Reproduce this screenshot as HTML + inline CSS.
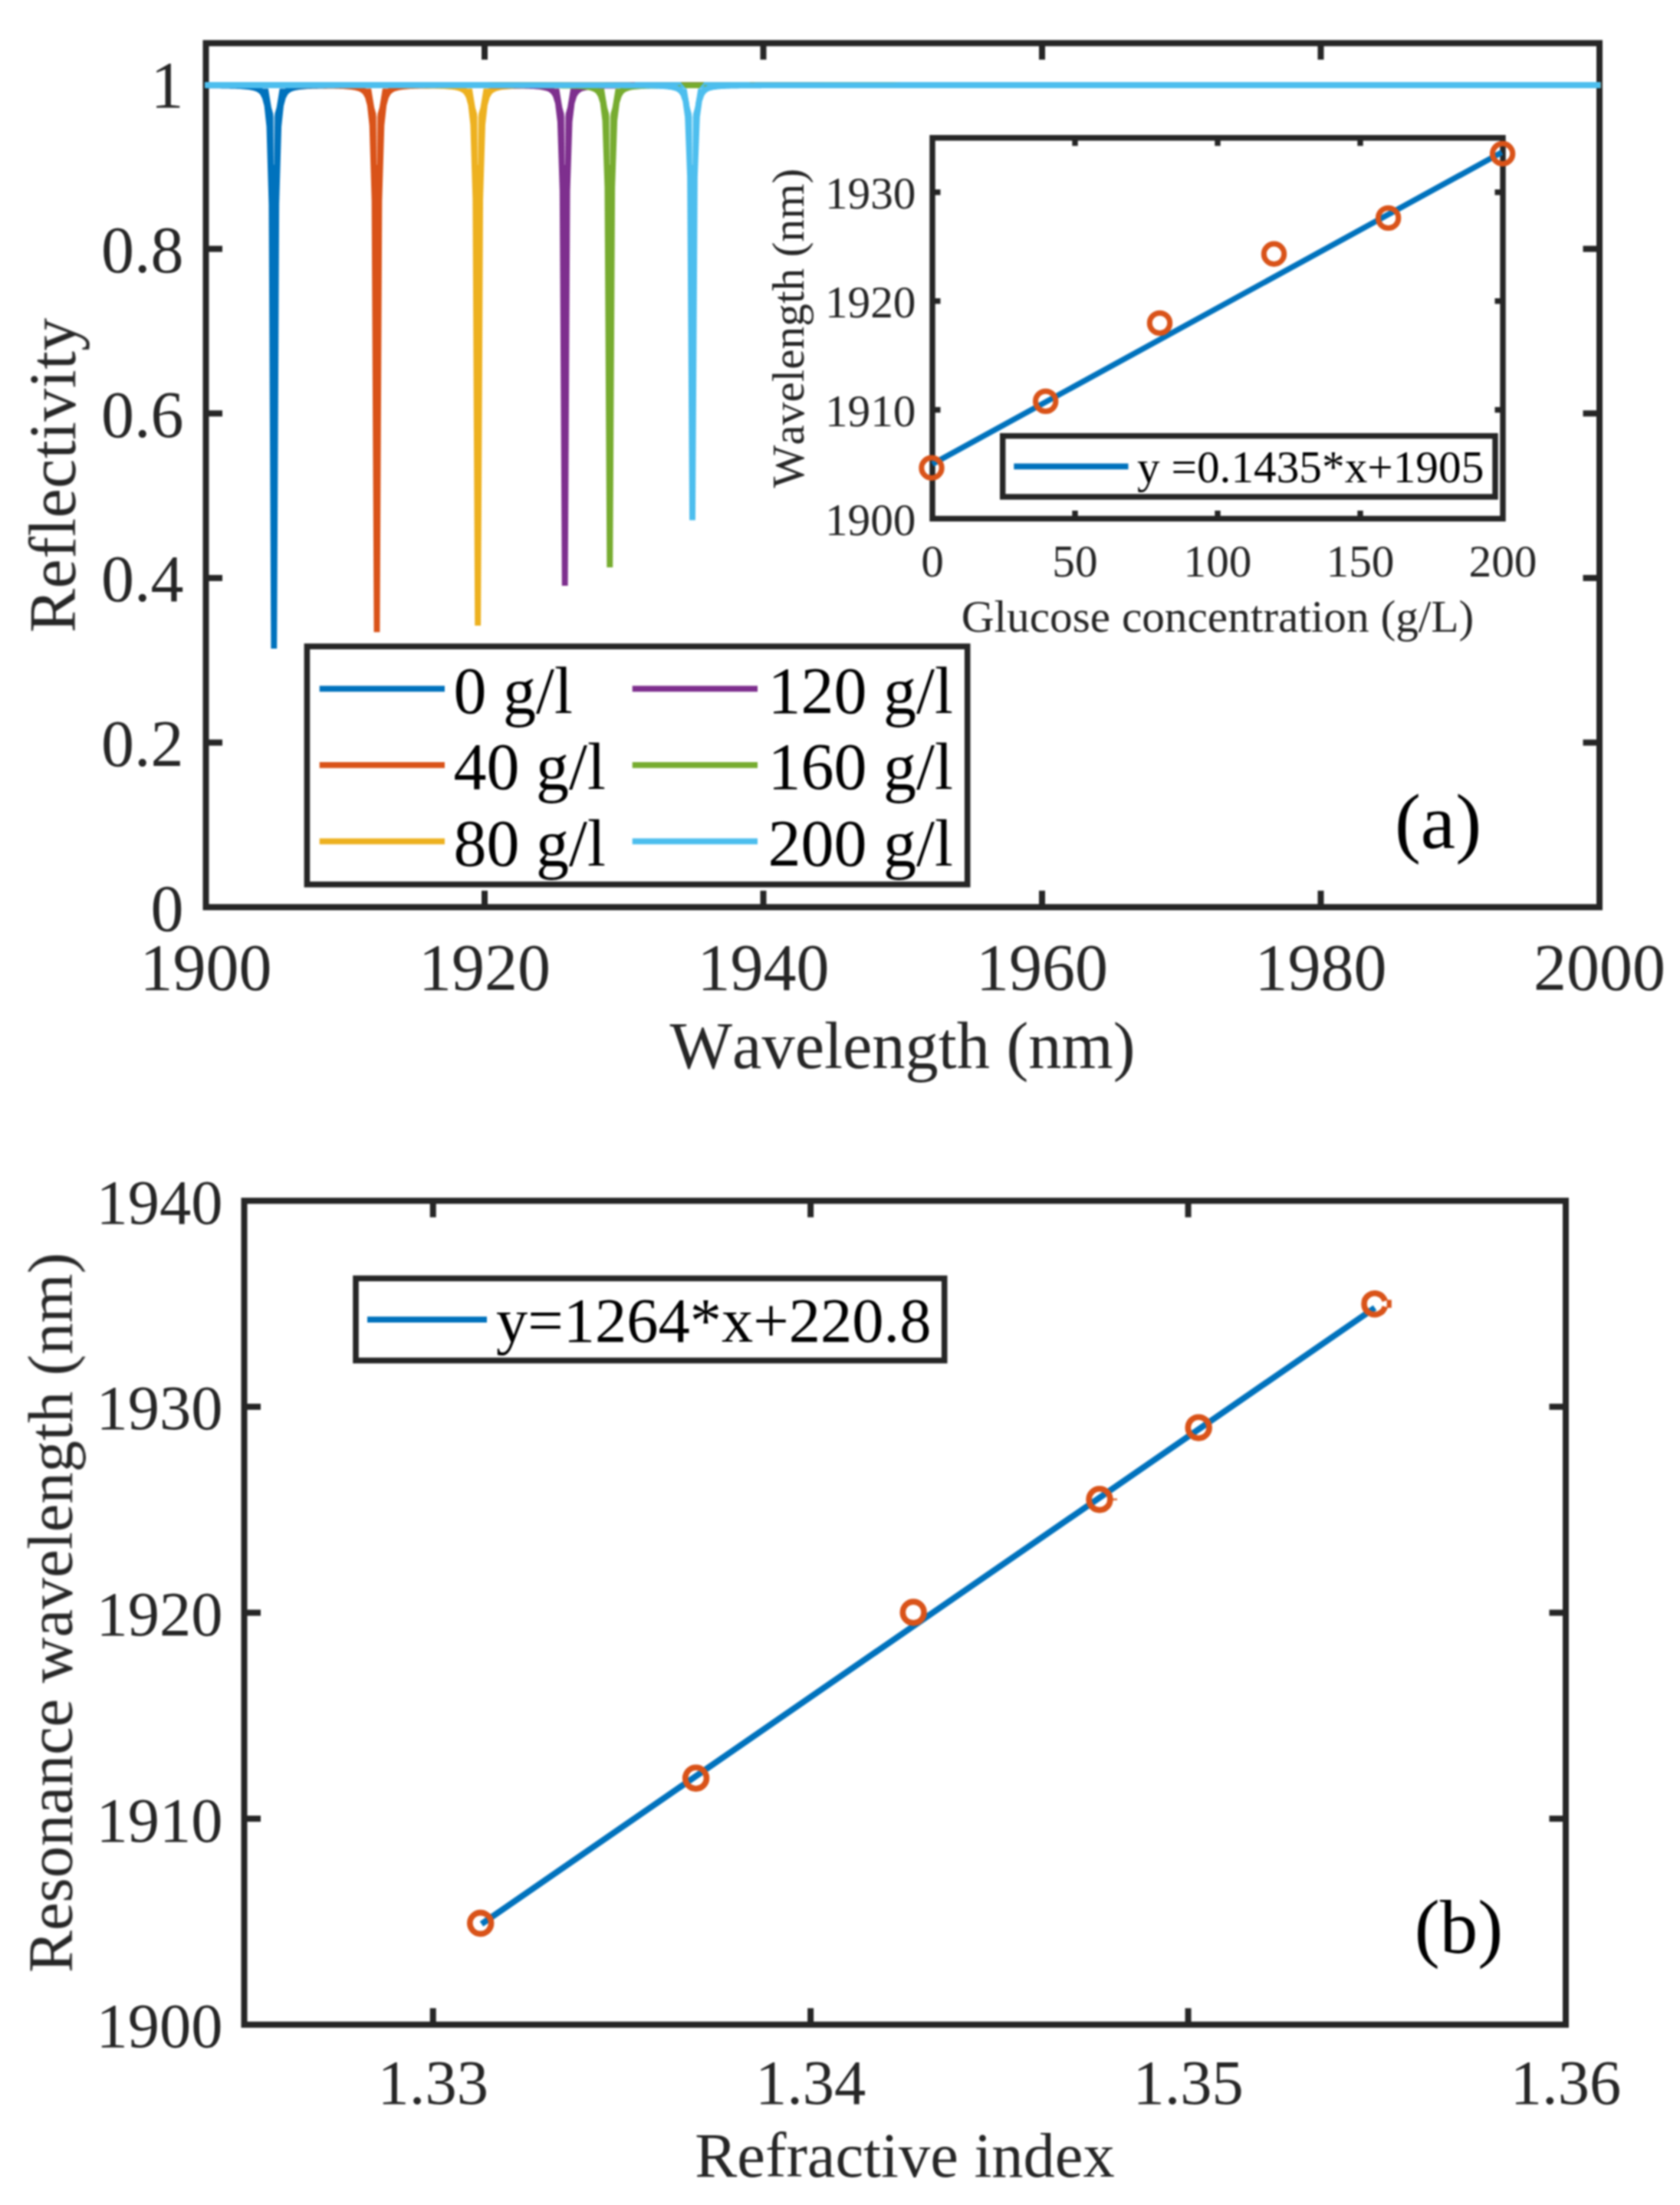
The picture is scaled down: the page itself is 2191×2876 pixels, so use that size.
<!DOCTYPE html>
<html lang="en">
<head>
<meta charset="utf-8">
<title>Reflectivity spectra and resonance wavelength versus refractive index</title>
<style>
html,body{margin:0;padding:0;background:#fff;}
body{width:2191px;height:2876px;overflow:hidden;}
svg{display:block;}
svg text{font-family:"Liberation Serif","Times New Roman",Times,serif;font-kerning:none;font-variant-ligatures:none;white-space:pre;}
</style>
</head>
<body>
<svg width="2191" height="2876" viewBox="0 0 2191 2876">
<defs><filter id="soft" filterUnits="userSpaceOnUse" x="0" y="0" width="2191" height="2876" color-interpolation-filters="sRGB"><feGaussianBlur stdDeviation="0.9"/></filter></defs>
<rect x="0" y="0" width="2191" height="2876" fill="#ffffff"/>
<g filter="url(#soft)">
<g id="panel-a">
<rect x="268.5" y="56.3" width="1817.5" height="1126.9" fill="none" stroke="#262626" stroke-width="8"/>
<line x1="632" y1="1183.2" x2="632" y2="1161.7" stroke="#262626" stroke-width="8" stroke-linecap="butt"/>
<line x1="632" y1="56.3" x2="632" y2="77.8" stroke="#262626" stroke-width="8" stroke-linecap="butt"/>
<line x1="995.5" y1="1183.2" x2="995.5" y2="1161.7" stroke="#262626" stroke-width="8" stroke-linecap="butt"/>
<line x1="995.5" y1="56.3" x2="995.5" y2="77.8" stroke="#262626" stroke-width="8" stroke-linecap="butt"/>
<line x1="1359" y1="1183.2" x2="1359" y2="1161.7" stroke="#262626" stroke-width="8" stroke-linecap="butt"/>
<line x1="1359" y1="56.3" x2="1359" y2="77.8" stroke="#262626" stroke-width="8" stroke-linecap="butt"/>
<line x1="1722.5" y1="1183.2" x2="1722.5" y2="1161.7" stroke="#262626" stroke-width="8" stroke-linecap="butt"/>
<line x1="1722.5" y1="56.3" x2="1722.5" y2="77.8" stroke="#262626" stroke-width="8" stroke-linecap="butt"/>
<line x1="268.5" y1="968.55" x2="290" y2="968.55" stroke="#262626" stroke-width="8" stroke-linecap="butt"/>
<line x1="2086" y1="968.55" x2="2064.5" y2="968.55" stroke="#262626" stroke-width="8" stroke-linecap="butt"/>
<line x1="268.5" y1="753.9" x2="290" y2="753.9" stroke="#262626" stroke-width="8" stroke-linecap="butt"/>
<line x1="2086" y1="753.9" x2="2064.5" y2="753.9" stroke="#262626" stroke-width="8" stroke-linecap="butt"/>
<line x1="268.5" y1="539.26" x2="290" y2="539.26" stroke="#262626" stroke-width="8" stroke-linecap="butt"/>
<line x1="2086" y1="539.26" x2="2064.5" y2="539.26" stroke="#262626" stroke-width="8" stroke-linecap="butt"/>
<line x1="268.5" y1="324.61" x2="290" y2="324.61" stroke="#262626" stroke-width="8" stroke-linecap="butt"/>
<line x1="2086" y1="324.61" x2="2064.5" y2="324.61" stroke="#262626" stroke-width="8" stroke-linecap="butt"/>
<path d="M268.8 111.29 L271.75 111.31 L274.7 111.34 L277.65 111.36 L280.6 111.39 L283.55 111.42 L286.5 111.46 L289.45 111.5 L292.4 111.54 L295.35 111.6 L298.3 111.66 L301.25 111.73 L304.2 111.81 L307.15 111.91 L310.1 112.03 L313.05 112.17 L316 112.34 L318.95 112.55 L321.9 112.82 L324.85 113.16 L327.8 113.61 L330.75 114.21 L333.7 115.05 L336.65 116.27 L339.6 118.12 L342.55 121.13 L345.5 126.51 L348.45 137.44 L351.4 164.77 L354.35 266.18 L357.3 846 L360.25 266.18 L363.2 164.77 L366.15 137.44 L369.1 126.51 L372.05 121.13 L375 118.12 L377.95 116.27 L380.9 115.05 L383.85 114.21 L386.8 113.61 L389.75 113.16 L392.7 112.82 L395.65 112.55 L398.6 112.34 L401.55 112.17 L404.5 112.03 L407.45 111.91 L410.4 111.81 L413.35 111.73 L416.3 111.66 L419.25 111.6 L422.2 111.54 L425.15 111.5 L428.1 111.46 L431.05 111.42 L434 111.39 L436.95 111.36 L439.9 111.34 L442.85 111.31 L445.8 111.29 L448.75 111.27 L451.7 111.26 L463 111.21 L477 111.16 L491 111.13 L505 111.11 L519 111.09 L533 111.07 L547 111.06 L561 111.06 L575 111.05 L589 111.04 L603 111.04 L617 111.03 L631 111.03 L645 111.03 L659 111.03 L673 111.02 L687 111.02 L701 111.02 L715 111.02 L729 111.02 L743 111.02 L757 111.01 L771 111.01 L785 111.01 L799 111.01 L813 111.01 L827 111.01 L841 111.01 L855 111.01 L869 111.01 L883 111.01 L897 111.01 L911 111.01 L925 111.01 L939 111.01 L953 111.01 L967 111.01 L981 111.01 L995 111.01 L1009 111.01 L1023 111.01 L1037 111 L1051 111 L1065 111 L1079 111 L1093 111 L1107 111 L1121 111 L1135 111 L1149 111 L1163 111 L1177 111 L1191 111 L1205 111 L1219 111 L1233 111 L1247 111 L1261 111 L1275 111 L1289 111 L1303 111 L1317 111 L1331 111 L1345 111 L1359 111 L1373 111 L1387 111 L1401 111 L1415 111 L1429 111 L1443 111 L1457 111 L1471 111 L1485 111 L1499 111 L1513 111 L1527 111 L1541 111 L1555 111 L1569 111 L1583 111 L1597 111 L1611 111 L1625 111 L1639 111 L1653 111 L1667 111 L1681 111 L1695 111 L1709 111 L1723 111 L1737 111 L1751 111 L1765 111 L1779 111 L1793 111 L1807 111 L1821 111 L1835 111 L1849 111 L1863 111 L1877 111 L1891 111 L1905 111 L1919 111 L1933 111 L1947 111 L1961 111 L1975 111 L1989 111 L2003 111 L2017 111 L2031 111 L2045 111 L2059 111 L2073 111 L2087 111 L2087.5 111" fill="none" stroke="#0072BD" stroke-width="7.8" stroke-linejoin="bevel" stroke-linecap="butt"/>
<path d="M336.65 115.6 L336.65 116.27 L339.6 118.12 L342.55 121.13 L345.5 126.51 L348.45 137.44 L351.4 164.77 L354.35 266.18 L360.25 266.18 L363.2 164.77 L366.15 137.44 L369.1 126.51 L372.05 121.13 L375 118.12 L377.95 116.27 L377.95 115.6 L364.7 115.6 L362.7 128 L360.7 140 L357.3 152 L353.9 140 L351.9 128 L349.9 115.6 Z" fill="#0072BD"/>
<path d="M356.1 149 L358.5 149 L357.65 215 L356.95 215 Z" fill="#fff" fill-opacity="0.6"/>
<path d="M267 111.04 L281 111.05 L295 111.06 L309 111.07 L323 111.08 L337 111.09 L351 111.11 L365 111.14 L379 111.18 L393 111.23 L397.1 111.25 L400.05 111.27 L403 111.28 L405.95 111.3 L408.9 111.33 L411.85 111.35 L414.8 111.38 L417.75 111.41 L420.7 111.44 L423.65 111.48 L426.6 111.53 L429.55 111.58 L432.5 111.64 L435.45 111.71 L438.4 111.79 L441.35 111.88 L444.3 112 L447.25 112.13 L450.2 112.3 L453.15 112.5 L456.1 112.76 L459.05 113.1 L462 113.53 L464.95 114.12 L467.9 114.94 L470.85 116.12 L473.8 117.91 L476.75 120.84 L479.7 126.05 L482.65 136.67 L485.6 163.2 L488.55 261.64 L491.5 824.5 L494.45 261.64 L497.4 163.2 L500.35 136.67 L503.3 126.05 L506.25 120.84 L509.2 117.91 L512.15 116.12 L515.1 114.94 L518.05 114.12 L521 113.53 L523.95 113.1 L526.9 112.76 L529.85 112.5 L532.8 112.3 L535.75 112.13 L538.7 112 L541.65 111.88 L544.6 111.79 L547.55 111.71 L550.5 111.64 L553.45 111.58 L556.4 111.53 L559.35 111.48 L562.3 111.44 L565.25 111.41 L568.2 111.38 L571.15 111.35 L574.1 111.33 L577.05 111.3 L580 111.28 L582.95 111.27 L585.9 111.25 L589 111.23 L603 111.18 L617 111.14 L631 111.11 L645 111.09 L659 111.08 L673 111.07 L687 111.06 L701 111.05 L715 111.04 L729 111.04 L743 111.04 L757 111.03 L771 111.03 L785 111.03 L799 111.02 L813 111.02 L827 111.02 L841 111.02 L855 111.02 L869 111.02 L883 111.01 L897 111.01 L911 111.01 L925 111.01 L939 111.01 L953 111.01 L967 111.01 L981 111.01 L995 111.01 L1009 111.01 L1023 111.01 L1037 111.01 L1051 111.01 L1065 111.01 L1079 111.01 L1093 111.01 L1107 111.01 L1121 111.01 L1135 111.01 L1149 111.01 L1163 111 L1177 111 L1191 111 L1205 111 L1219 111 L1233 111 L1247 111 L1261 111 L1275 111 L1289 111 L1303 111 L1317 111 L1331 111 L1345 111 L1359 111 L1373 111 L1387 111 L1401 111 L1415 111 L1429 111 L1443 111 L1457 111 L1471 111 L1485 111 L1499 111 L1513 111 L1527 111 L1541 111 L1555 111 L1569 111 L1583 111 L1597 111 L1611 111 L1625 111 L1639 111 L1653 111 L1667 111 L1681 111 L1695 111 L1709 111 L1723 111 L1737 111 L1751 111 L1765 111 L1779 111 L1793 111 L1807 111 L1821 111 L1835 111 L1849 111 L1863 111 L1877 111 L1891 111 L1905 111 L1919 111 L1933 111 L1947 111 L1961 111 L1975 111 L1989 111 L2003 111 L2017 111 L2031 111 L2045 111 L2059 111 L2073 111 L2087 111 L2087.5 111" fill="none" stroke="#D95319" stroke-width="7.8" stroke-linejoin="bevel" stroke-linecap="butt"/>
<path d="M470.85 115.6 L470.85 116.12 L473.8 117.91 L476.75 120.84 L479.7 126.05 L482.65 136.67 L485.6 163.2 L488.55 261.64 L494.45 261.64 L497.4 163.2 L500.35 136.67 L503.3 126.05 L506.25 120.84 L509.2 117.91 L512.15 116.12 L512.15 115.6 L498.9 115.6 L496.9 128 L494.9 140 L491.5 152 L488.1 140 L486.1 128 L484.1 115.6 Z" fill="#D95319"/>
<path d="M490.3 149 L492.7 149 L491.85 215 L491.15 215 Z" fill="#fff" fill-opacity="0.6"/>
<path d="M267 111.02 L281 111.02 L295 111.02 L309 111.02 L323 111.02 L337 111.03 L351 111.03 L365 111.03 L379 111.04 L393 111.04 L407 111.05 L421 111.05 L435 111.06 L449 111.07 L463 111.09 L477 111.1 L491 111.13 L505 111.16 L519 111.2 L528.8 111.25 L531.75 111.26 L534.7 111.28 L537.65 111.3 L540.6 111.32 L543.55 111.35 L546.5 111.37 L549.45 111.4 L552.4 111.44 L555.35 111.48 L558.3 111.52 L561.25 111.57 L564.2 111.63 L567.15 111.7 L570.1 111.78 L573.05 111.87 L576 111.98 L578.95 112.12 L581.9 112.28 L584.85 112.49 L587.8 112.74 L590.75 113.07 L593.7 113.5 L596.65 114.08 L599.6 114.89 L602.55 116.05 L605.5 117.83 L608.45 120.72 L611.4 125.87 L614.35 136.36 L617.3 162.58 L620.25 259.84 L623.2 816 L626.15 259.84 L629.1 162.58 L632.05 136.36 L635 125.87 L637.95 120.72 L640.9 117.83 L643.85 116.05 L646.8 114.89 L649.75 114.08 L652.7 113.5 L655.65 113.07 L658.6 112.74 L661.55 112.49 L664.5 112.28 L667.45 112.12 L670.4 111.98 L673.35 111.87 L676.3 111.78 L679.25 111.7 L682.2 111.63 L685.15 111.57 L688.1 111.52 L691.05 111.48 L694 111.44 L696.95 111.4 L699.9 111.37 L702.85 111.35 L705.8 111.32 L708.75 111.3 L711.7 111.28 L714.65 111.26 L717.6 111.25 L729 111.2 L743 111.15 L757 111.12 L771 111.1 L785 111.08 L799 111.07 L813 111.06 L827 111.05 L841 111.05 L855 111.04 L869 111.04 L883 111.03 L897 111.03 L911 111.03 L925 111.02 L939 111.02 L953 111.02 L967 111.02 L981 111.02 L995 111.02 L1009 111.01 L1023 111.01 L1037 111.01 L1051 111.01 L1065 111.01 L1079 111.01 L1093 111.01 L1107 111.01 L1121 111.01 L1135 111.01 L1149 111.01 L1163 111.01 L1177 111.01 L1191 111.01 L1205 111.01 L1219 111.01 L1233 111.01 L1247 111.01 L1261 111.01 L1275 111.01 L1289 111 L1303 111 L1317 111 L1331 111 L1345 111 L1359 111 L1373 111 L1387 111 L1401 111 L1415 111 L1429 111 L1443 111 L1457 111 L1471 111 L1485 111 L1499 111 L1513 111 L1527 111 L1541 111 L1555 111 L1569 111 L1583 111 L1597 111 L1611 111 L1625 111 L1639 111 L1653 111 L1667 111 L1681 111 L1695 111 L1709 111 L1723 111 L1737 111 L1751 111 L1765 111 L1779 111 L1793 111 L1807 111 L1821 111 L1835 111 L1849 111 L1863 111 L1877 111 L1891 111 L1905 111 L1919 111 L1933 111 L1947 111 L1961 111 L1975 111 L1989 111 L2003 111 L2017 111 L2031 111 L2045 111 L2059 111 L2073 111 L2087 111 L2087.5 111" fill="none" stroke="#EDB120" stroke-width="7.8" stroke-linejoin="bevel" stroke-linecap="butt"/>
<path d="M602.55 115.6 L602.55 116.05 L605.5 117.83 L608.45 120.72 L611.4 125.87 L614.35 136.36 L617.3 162.58 L620.25 259.84 L626.15 259.84 L629.1 162.58 L632.05 136.36 L635 125.87 L637.95 120.72 L640.9 117.83 L643.85 116.05 L643.85 115.6 L630.6 115.6 L628.6 128 L626.6 140 L623.2 152 L619.8 140 L617.8 128 L615.8 115.6 Z" fill="#EDB120"/>
<path d="M622 149 L624.4 149 L623.55 215 L622.85 215 Z" fill="#fff" fill-opacity="0.6"/>
<path d="M267 111.01 L281 111.01 L295 111.01 L309 111.01 L323 111.01 L337 111.01 L351 111.01 L365 111.01 L379 111.02 L393 111.02 L407 111.02 L421 111.02 L435 111.02 L449 111.02 L463 111.03 L477 111.03 L491 111.03 L505 111.04 L519 111.04 L533 111.05 L547 111.06 L561 111.07 L575 111.08 L589 111.09 L603 111.11 L617 111.14 L631 111.18 L642.3 111.23 L645.25 111.24 L648.2 111.26 L651.15 111.28 L654.1 111.3 L657.05 111.32 L660 111.35 L662.95 111.37 L665.9 111.41 L668.85 111.44 L671.8 111.48 L674.75 111.53 L677.7 111.58 L680.65 111.65 L683.6 111.72 L686.55 111.81 L689.5 111.91 L692.45 112.04 L695.4 112.19 L698.35 112.38 L701.3 112.61 L704.25 112.92 L707.2 113.32 L710.15 113.85 L713.1 114.6 L716.05 115.68 L719 117.33 L721.95 120 L724.9 124.78 L727.85 134.49 L730.8 158.77 L733.75 248.87 L736.7 764 L739.65 248.87 L742.6 158.77 L745.55 134.49 L748.5 124.78 L751.45 120 L754.4 117.33 L757.35 115.68 L760.3 114.6 L763.25 113.85 L766.2 113.32 L769.15 112.92 L772.1 112.61 L775.05 112.38 L778 112.19 L780.95 112.04 L783.9 111.91 L786.85 111.81 L789.8 111.72 L792.75 111.65 L795.7 111.58 L798.65 111.53 L801.6 111.48 L804.55 111.44 L807.5 111.41 L810.45 111.37 L813.4 111.35 L816.35 111.32 L819.3 111.3 L822.25 111.28 L825.2 111.26 L828.15 111.24 L831.1 111.23 L841 111.19 L855 111.15 L869 111.12 L883 111.1 L897 111.08 L911 111.07 L925 111.06 L939 111.05 L953 111.04 L967 111.04 L981 111.03 L995 111.03 L1009 111.03 L1023 111.02 L1037 111.02 L1051 111.02 L1065 111.02 L1079 111.02 L1093 111.02 L1107 111.01 L1121 111.01 L1135 111.01 L1149 111.01 L1163 111.01 L1177 111.01 L1191 111.01 L1205 111.01 L1219 111.01 L1233 111.01 L1247 111.01 L1261 111.01 L1275 111.01 L1289 111.01 L1303 111.01 L1317 111.01 L1331 111.01 L1345 111.01 L1359 111.01 L1373 111.01 L1387 111 L1401 111 L1415 111 L1429 111 L1443 111 L1457 111 L1471 111 L1485 111 L1499 111 L1513 111 L1527 111 L1541 111 L1555 111 L1569 111 L1583 111 L1597 111 L1611 111 L1625 111 L1639 111 L1653 111 L1667 111 L1681 111 L1695 111 L1709 111 L1723 111 L1737 111 L1751 111 L1765 111 L1779 111 L1793 111 L1807 111 L1821 111 L1835 111 L1849 111 L1863 111 L1877 111 L1891 111 L1905 111 L1919 111 L1933 111 L1947 111 L1961 111 L1975 111 L1989 111 L2003 111 L2017 111 L2031 111 L2045 111 L2059 111 L2073 111 L2087 111 L2087.5 111" fill="none" stroke="#7E2F8E" stroke-width="7.8" stroke-linejoin="bevel" stroke-linecap="butt"/>
<path d="M716.05 115.6 L716.05 115.68 L719 117.33 L721.95 120 L724.9 124.78 L727.85 134.49 L730.8 158.77 L733.75 248.87 L739.65 248.87 L742.6 158.77 L745.55 134.49 L748.5 124.78 L751.45 120 L754.4 117.33 L757.35 115.68 L757.35 115.6 L744.1 115.6 L742.1 128 L740.1 140 L736.7 152 L733.3 140 L731.3 128 L729.3 115.6 Z" fill="#7E2F8E"/>
<path d="M735.5 149 L737.9 149 L737.05 215 L736.35 215 Z" fill="#fff" fill-opacity="0.6"/>
<path d="M267 111.01 L281 111.01 L295 111.01 L309 111.01 L323 111.01 L337 111.01 L351 111.01 L365 111.01 L379 111.01 L393 111.01 L407 111.01 L421 111.01 L435 111.02 L449 111.02 L463 111.02 L477 111.02 L491 111.02 L505 111.02 L519 111.03 L533 111.03 L547 111.03 L561 111.04 L575 111.04 L589 111.05 L603 111.05 L617 111.06 L631 111.07 L645 111.09 L659 111.11 L673 111.13 L687 111.17 L700.9 111.22 L703.85 111.23 L706.8 111.25 L709.75 111.27 L712.7 111.29 L715.65 111.31 L718.6 111.33 L721.55 111.36 L724.5 111.39 L727.45 111.43 L730.4 111.47 L733.35 111.51 L736.3 111.56 L739.25 111.62 L742.2 111.69 L745.15 111.78 L748.1 111.88 L751.05 112 L754 112.14 L756.95 112.33 L759.9 112.56 L762.85 112.85 L765.8 113.23 L768.75 113.75 L771.7 114.47 L774.65 115.51 L777.6 117.09 L780.55 119.67 L783.5 124.27 L786.45 133.63 L789.4 157.02 L792.35 243.8 L795.3 740 L798.25 243.8 L801.2 157.02 L804.15 133.63 L807.1 124.27 L810.05 119.67 L813 117.09 L815.95 115.51 L818.9 114.47 L821.85 113.75 L824.8 113.23 L827.75 112.85 L830.7 112.56 L833.65 112.33 L836.6 112.14 L839.55 112 L842.5 111.88 L845.45 111.78 L848.4 111.69 L851.35 111.62 L854.3 111.56 L857.25 111.51 L860.2 111.47 L863.15 111.43 L866.1 111.39 L869.05 111.36 L872 111.33 L874.95 111.31 L877.9 111.29 L880.85 111.27 L883.8 111.25 L886.75 111.23 L889.7 111.22 L897 111.19 L911 111.15 L925 111.12 L939 111.1 L953 111.08 L967 111.07 L981 111.06 L995 111.05 L1009 111.04 L1023 111.04 L1037 111.03 L1051 111.03 L1065 111.03 L1079 111.02 L1093 111.02 L1107 111.02 L1121 111.02 L1135 111.02 L1149 111.02 L1163 111.01 L1177 111.01 L1191 111.01 L1205 111.01 L1219 111.01 L1233 111.01 L1247 111.01 L1261 111.01 L1275 111.01 L1289 111.01 L1303 111.01 L1317 111.01 L1331 111.01 L1345 111.01 L1359 111.01 L1373 111.01 L1387 111.01 L1401 111.01 L1415 111.01 L1429 111 L1443 111 L1457 111 L1471 111 L1485 111 L1499 111 L1513 111 L1527 111 L1541 111 L1555 111 L1569 111 L1583 111 L1597 111 L1611 111 L1625 111 L1639 111 L1653 111 L1667 111 L1681 111 L1695 111 L1709 111 L1723 111 L1737 111 L1751 111 L1765 111 L1779 111 L1793 111 L1807 111 L1821 111 L1835 111 L1849 111 L1863 111 L1877 111 L1891 111 L1905 111 L1919 111 L1933 111 L1947 111 L1961 111 L1975 111 L1989 111 L2003 111 L2017 111 L2031 111 L2045 111 L2059 111 L2073 111 L2087 111 L2087.5 111" fill="none" stroke="#77AC30" stroke-width="7.8" stroke-linejoin="bevel" stroke-linecap="butt"/>
<path d="M777.6 115.6 L777.6 117.09 L780.55 119.67 L783.5 124.27 L786.45 133.63 L789.4 157.02 L792.35 243.8 L798.25 243.8 L801.2 157.02 L804.15 133.63 L807.1 124.27 L810.05 119.67 L813 117.09 L813 115.6 L802.7 115.6 L800.7 128 L798.7 140 L795.3 152 L791.9 140 L789.9 128 L787.9 115.6 Z" fill="#77AC30"/>
<path d="M794.1 149 L796.5 149 L795.65 215 L794.95 215 Z" fill="#fff" fill-opacity="0.6"/>
<path d="M267 111 L281 111 L295 111 L309 111.01 L323 111.01 L337 111.01 L351 111.01 L365 111.01 L379 111.01 L393 111.01 L407 111.01 L421 111.01 L435 111.01 L449 111.01 L463 111.01 L477 111.01 L491 111.01 L505 111.01 L519 111.01 L533 111.01 L547 111.01 L561 111.02 L575 111.02 L589 111.02 L603 111.02 L617 111.02 L631 111.02 L645 111.03 L659 111.03 L673 111.03 L687 111.04 L701 111.04 L715 111.05 L729 111.06 L743 111.07 L757 111.08 L771 111.1 L785 111.13 L799 111.16 L808.6 111.2 L811.55 111.21 L814.5 111.23 L817.45 111.24 L820.4 111.26 L823.35 111.28 L826.3 111.3 L829.25 111.33 L832.2 111.35 L835.15 111.38 L838.1 111.42 L841.05 111.46 L844 111.51 L846.95 111.56 L849.9 111.63 L852.85 111.7 L855.8 111.79 L858.75 111.9 L861.7 112.03 L864.65 112.2 L867.6 112.4 L870.55 112.67 L873.5 113.01 L876.45 113.48 L879.4 114.13 L882.35 115.07 L885.3 116.5 L888.25 118.82 L891.2 122.97 L894.15 131.41 L897.1 152.52 L900.05 230.81 L903 678.5 L905.95 230.81 L908.9 152.52 L911.85 131.41 L914.8 122.97 L917.75 118.82 L920.7 116.5 L923.65 115.07 L926.6 114.13 L929.55 113.48 L932.5 113.01 L935.45 112.67 L938.4 112.4 L941.35 112.2 L944.3 112.03 L947.25 111.9 L950.2 111.79 L953.15 111.7 L956.1 111.63 L959.05 111.56 L962 111.51 L964.95 111.46 L967.9 111.42 L970.85 111.38 L973.8 111.35 L976.75 111.33 L979.7 111.3 L982.65 111.28 L985.6 111.26 L988.55 111.24 L991.5 111.23 L994.45 111.21 L997.4 111.2 L1009 111.16 L1023 111.12 L1037 111.1 L1051 111.08 L1065 111.07 L1079 111.06 L1093 111.05 L1107 111.04 L1121 111.04 L1135 111.03 L1149 111.03 L1163 111.03 L1177 111.02 L1191 111.02 L1205 111.02 L1219 111.02 L1233 111.02 L1247 111.01 L1261 111.01 L1275 111.01 L1289 111.01 L1303 111.01 L1317 111.01 L1331 111.01 L1345 111.01 L1359 111.01 L1373 111.01 L1387 111.01 L1401 111.01 L1415 111.01 L1429 111.01 L1443 111.01 L1457 111.01 L1471 111.01 L1485 111.01 L1499 111 L1513 111 L1527 111 L1541 111 L1555 111 L1569 111 L1583 111 L1597 111 L1611 111 L1625 111 L1639 111 L1653 111 L1667 111 L1681 111 L1695 111 L1709 111 L1723 111 L1737 111 L1751 111 L1765 111 L1779 111 L1793 111 L1807 111 L1821 111 L1835 111 L1849 111 L1863 111 L1877 111 L1891 111 L1905 111 L1919 111 L1933 111 L1947 111 L1961 111 L1975 111 L1989 111 L2003 111 L2017 111 L2031 111 L2045 111 L2059 111 L2073 111 L2087 111 L2087.5 111" fill="none" stroke="#4DBEEE" stroke-width="7.8" stroke-linejoin="bevel" stroke-linecap="butt"/>
<path d="M885.3 115.6 L885.3 116.5 L888.25 118.82 L891.2 122.97 L894.15 131.41 L897.1 152.52 L900.05 230.81 L905.95 230.81 L908.9 152.52 L911.85 131.41 L914.8 122.97 L917.75 118.82 L920.7 116.5 L920.7 115.6 L910.4 115.6 L908.4 128 L906.4 140 L903 152 L899.6 140 L897.6 128 L895.6 115.6 Z" fill="#4DBEEE"/>
<path d="M901.8 149 L904.2 149 L903.35 215 L902.65 215 Z" fill="#fff" fill-opacity="0.6"/>
<rect x="828" y="107.1" width="60" height="3.9" fill="#4DBEEE"/>
<path d="M887.5 107.1 L894.4 115.3 L887.5 115.3 Z" fill="#4DBEEE"/>
<rect x="918" y="107.1" width="60" height="3.9" fill="#4DBEEE"/>
<path d="M918.5 107.1 L911.6 115.3 L918.5 115.3 Z" fill="#4DBEEE"/>
<text x="268.5" y="1291.2" font-size="86" text-anchor="middle" fill="#262626">1900</text>
<text x="632" y="1291.2" font-size="86" text-anchor="middle" fill="#262626">1920</text>
<text x="995.5" y="1291.2" font-size="86" text-anchor="middle" fill="#262626">1940</text>
<text x="1359" y="1291.2" font-size="86" text-anchor="middle" fill="#262626">1960</text>
<text x="1722.5" y="1291.2" font-size="86" text-anchor="middle" fill="#262626">1980</text>
<text x="2086" y="1291.2" font-size="86" text-anchor="middle" fill="#262626">2000</text>
<text x="239.5" y="1213.7" font-size="86" text-anchor="end" fill="#262626">0</text>
<text x="239.5" y="999.05" font-size="86" text-anchor="end" fill="#262626">0.2</text>
<text x="239.5" y="784.4" font-size="86" text-anchor="end" fill="#262626">0.4</text>
<text x="239.5" y="569.76" font-size="86" text-anchor="end" fill="#262626">0.6</text>
<text x="239.5" y="355.11" font-size="86" text-anchor="end" fill="#262626">0.8</text>
<text x="239.5" y="140.46" font-size="86" text-anchor="end" fill="#262626">1</text>
<text x="1177" y="1393" font-size="86.4" text-anchor="middle" fill="#262626">Wavelength (nm)</text>
<text x="97.5" y="619.75" font-size="86" text-anchor="middle" fill="#262626" transform="rotate(-90 97.5 619.75)" style="letter-spacing:0.4px">Re<tspan style="font-variant-ligatures:common-ligatures">fl</tspan>ectivity</text>
<text x="1875.5" y="1105.5" font-size="102" text-anchor="middle" fill="#000">(a)</text>
<rect x="400.4" y="843.1" width="861.3" height="310.5" fill="#fff" stroke="#262626" stroke-width="7.6"/>
<line x1="416.7" y1="898.3" x2="580" y2="898.3" stroke="#0072BD" stroke-width="7.8" stroke-linecap="butt"/>
<text x="591.5" y="929.5" font-size="86" text-anchor="start" fill="#000">0 g/l</text>
<line x1="416.7" y1="997.9" x2="580" y2="997.9" stroke="#D95319" stroke-width="7.8" stroke-linecap="butt"/>
<text x="591.5" y="1029.1" font-size="86" text-anchor="start" fill="#000">40 g/l</text>
<line x1="416.7" y1="1097.3" x2="580" y2="1097.3" stroke="#EDB120" stroke-width="7.8" stroke-linecap="butt"/>
<text x="591.5" y="1128.5" font-size="86" text-anchor="start" fill="#000">80 g/l</text>
<line x1="824.7" y1="898.3" x2="988" y2="898.3" stroke="#7E2F8E" stroke-width="7.8" stroke-linecap="butt"/>
<text x="1001.5" y="929.5" font-size="86" text-anchor="start" fill="#000">120 g/l</text>
<line x1="824.7" y1="997.9" x2="988" y2="997.9" stroke="#77AC30" stroke-width="7.8" stroke-linecap="butt"/>
<text x="1001.5" y="1029.1" font-size="86" text-anchor="start" fill="#000">160 g/l</text>
<line x1="824.7" y1="1097.3" x2="988" y2="1097.3" stroke="#4DBEEE" stroke-width="7.8" stroke-linecap="butt"/>
<text x="1001.5" y="1128.5" font-size="86" text-anchor="start" fill="#000">200 g/l</text>
</g>
<g id="inset">
<rect x="1216" y="179.8" width="744" height="496.7" fill="#fff" stroke="#262626" stroke-width="7.4"/>
<line x1="1402" y1="676.5" x2="1402" y2="666" stroke="#262626" stroke-width="7.4" stroke-linecap="butt"/>
<line x1="1402" y1="179.8" x2="1402" y2="190.3" stroke="#262626" stroke-width="7.4" stroke-linecap="butt"/>
<line x1="1588" y1="676.5" x2="1588" y2="666" stroke="#262626" stroke-width="7.4" stroke-linecap="butt"/>
<line x1="1588" y1="179.8" x2="1588" y2="190.3" stroke="#262626" stroke-width="7.4" stroke-linecap="butt"/>
<line x1="1774" y1="676.5" x2="1774" y2="666" stroke="#262626" stroke-width="7.4" stroke-linecap="butt"/>
<line x1="1774" y1="179.8" x2="1774" y2="190.3" stroke="#262626" stroke-width="7.4" stroke-linecap="butt"/>
<line x1="1216" y1="534.59" x2="1226.5" y2="534.59" stroke="#262626" stroke-width="7.4" stroke-linecap="butt"/>
<line x1="1960" y1="534.59" x2="1949.5" y2="534.59" stroke="#262626" stroke-width="7.4" stroke-linecap="butt"/>
<line x1="1216" y1="392.67" x2="1226.5" y2="392.67" stroke="#262626" stroke-width="7.4" stroke-linecap="butt"/>
<line x1="1960" y1="392.67" x2="1949.5" y2="392.67" stroke="#262626" stroke-width="7.4" stroke-linecap="butt"/>
<line x1="1216" y1="250.76" x2="1226.5" y2="250.76" stroke="#262626" stroke-width="7.4" stroke-linecap="butt"/>
<line x1="1960" y1="250.76" x2="1949.5" y2="250.76" stroke="#262626" stroke-width="7.4" stroke-linecap="butt"/>
<text x="1216" y="751.5" font-size="59.3" text-anchor="middle" fill="#262626">0</text>
<text x="1402" y="751.5" font-size="59.3" text-anchor="middle" fill="#262626">50</text>
<text x="1588" y="751.5" font-size="59.3" text-anchor="middle" fill="#262626">100</text>
<text x="1774" y="751.5" font-size="59.3" text-anchor="middle" fill="#262626">150</text>
<text x="1960" y="751.5" font-size="59.3" text-anchor="middle" fill="#262626">200</text>
<text x="1194.5" y="697.5" font-size="59.3" text-anchor="end" fill="#262626">1900</text>
<text x="1194.5" y="555.59" font-size="59.3" text-anchor="end" fill="#262626">1910</text>
<text x="1194.5" y="413.67" font-size="59.3" text-anchor="end" fill="#262626">1920</text>
<text x="1194.5" y="271.76" font-size="59.3" text-anchor="end" fill="#262626">1930</text>
<text x="1588" y="824" font-size="59.3" text-anchor="middle" fill="#262626">Glucose concentration (g/L)</text>
<text x="1048" y="428.15" font-size="59.3" text-anchor="middle" fill="#262626" transform="rotate(-90 1048 428.15)">Wavelength (nm)</text>
<line x1="1216" y1="605.2" x2="1958.5" y2="198.8" stroke="#0072BD" stroke-width="7.4" stroke-linecap="butt"/>
<circle cx="1215" cy="610.3" r="13.2" fill="none" stroke="#D95319" stroke-width="7"/>
<circle cx="1363.7" cy="523.4" r="13.2" fill="none" stroke="#D95319" stroke-width="7"/>
<circle cx="1512.5" cy="421.4" r="13.2" fill="none" stroke="#D95319" stroke-width="7"/>
<circle cx="1661.5" cy="331.3" r="13.2" fill="none" stroke="#D95319" stroke-width="7"/>
<circle cx="1810.6" cy="284.4" r="13.2" fill="none" stroke="#D95319" stroke-width="7"/>
<circle cx="1959.6" cy="200.5" r="13.2" fill="none" stroke="#D95319" stroke-width="7"/>
<rect x="1307.7" y="568.6" width="642.3" height="79.4" fill="#fff" stroke="#262626" stroke-width="7.4"/>
<line x1="1322.3" y1="608.4" x2="1471.5" y2="608.4" stroke="#0072BD" stroke-width="7.6" stroke-linecap="butt"/>
<text x="1483" y="628.6" font-size="59.3" text-anchor="start" fill="#000">y =0.1435*x+1905</text>
</g>
<g id="panel-b">
<rect x="318.5" y="1566.2" width="1723.5" height="1074.6" fill="none" stroke="#262626" stroke-width="8"/>
<line x1="564.71" y1="2640.8" x2="564.71" y2="2619.3" stroke="#262626" stroke-width="8" stroke-linecap="butt"/>
<line x1="564.71" y1="1566.2" x2="564.71" y2="1587.7" stroke="#262626" stroke-width="8" stroke-linecap="butt"/>
<line x1="1057.14" y1="2640.8" x2="1057.14" y2="2619.3" stroke="#262626" stroke-width="8" stroke-linecap="butt"/>
<line x1="1057.14" y1="1566.2" x2="1057.14" y2="1587.7" stroke="#262626" stroke-width="8" stroke-linecap="butt"/>
<line x1="1549.57" y1="2640.8" x2="1549.57" y2="2619.3" stroke="#262626" stroke-width="8" stroke-linecap="butt"/>
<line x1="1549.57" y1="1566.2" x2="1549.57" y2="1587.7" stroke="#262626" stroke-width="8" stroke-linecap="butt"/>
<line x1="318.5" y1="2372.15" x2="340" y2="2372.15" stroke="#262626" stroke-width="8" stroke-linecap="butt"/>
<line x1="2042" y1="2372.15" x2="2020.5" y2="2372.15" stroke="#262626" stroke-width="8" stroke-linecap="butt"/>
<line x1="318.5" y1="2103.5" x2="340" y2="2103.5" stroke="#262626" stroke-width="8" stroke-linecap="butt"/>
<line x1="2042" y1="2103.5" x2="2020.5" y2="2103.5" stroke="#262626" stroke-width="8" stroke-linecap="butt"/>
<line x1="318.5" y1="1834.85" x2="340" y2="1834.85" stroke="#262626" stroke-width="8" stroke-linecap="butt"/>
<line x1="2042" y1="1834.85" x2="2020.5" y2="1834.85" stroke="#262626" stroke-width="8" stroke-linecap="butt"/>
<text x="564.71" y="2744" font-size="82.5" text-anchor="middle" fill="#262626">1.33</text>
<text x="1057.14" y="2744" font-size="82.5" text-anchor="middle" fill="#262626">1.34</text>
<text x="1549.57" y="2744" font-size="82.5" text-anchor="middle" fill="#262626">1.35</text>
<text x="2042" y="2744" font-size="82.5" text-anchor="middle" fill="#262626">1.36</text>
<text x="290.5" y="2670.3" font-size="82.5" text-anchor="end" fill="#262626">1900</text>
<text x="290.5" y="2401.65" font-size="82.5" text-anchor="end" fill="#262626">1910</text>
<text x="290.5" y="2133" font-size="82.5" text-anchor="end" fill="#262626">1920</text>
<text x="290.5" y="1864.35" font-size="82.5" text-anchor="end" fill="#262626">1930</text>
<text x="290.5" y="1595.7" font-size="82.5" text-anchor="end" fill="#262626">1940</text>
<text x="1180" y="2839" font-size="82.5" text-anchor="middle" fill="#262626">Refractive index</text>
<text x="93" y="2103.5" font-size="82.5" text-anchor="middle" fill="#262626" transform="rotate(-90 93 2103.5)">Resonance wavelength (nm)</text>
<text x="1902.5" y="2547" font-size="99" text-anchor="middle" fill="#000">(b)</text>
<line x1="628" y1="2509.5" x2="1793" y2="1705.7" stroke="#0072BD" stroke-width="8" stroke-linecap="butt"/>
<circle cx="626.7" cy="2508.5" r="13.9" fill="none" stroke="#D95319" stroke-width="7.6"/>
<circle cx="907.6" cy="2319.2" r="13.9" fill="none" stroke="#D95319" stroke-width="7.6"/>
<circle cx="1191.2" cy="2103" r="13.9" fill="none" stroke="#D95319" stroke-width="7.6"/>
<circle cx="1434" cy="1955.7" r="13.9" fill="none" stroke="#D95319" stroke-width="7.6"/>
<circle cx="1563.2" cy="1862.1" r="13.9" fill="none" stroke="#D95319" stroke-width="7.6"/>
<path d="M1806.33 1704.3 A13.9 13.9 0 1 1 1806.26 1696.87" fill="none" stroke="#D95319" stroke-width="7.6"/>
<rect x="1808.6" y="1695.4" width="6.2" height="10.4" fill="#D95319"/>
<rect x="1447" y="1954.4" width="10" height="2.6" fill="#D95319" opacity="0.8"/>
<rect x="464" y="1667.4" width="767.7" height="107.1" fill="#fff" stroke="#262626" stroke-width="7.6"/>
<line x1="479" y1="1721.2" x2="635" y2="1721.2" stroke="#0072BD" stroke-width="7.8" stroke-linecap="butt"/>
<text x="647" y="1750" font-size="82.5" text-anchor="start" fill="#000">y=1264*x+220.8</text>
</g>
</g>
</svg>
</body>
</html>
